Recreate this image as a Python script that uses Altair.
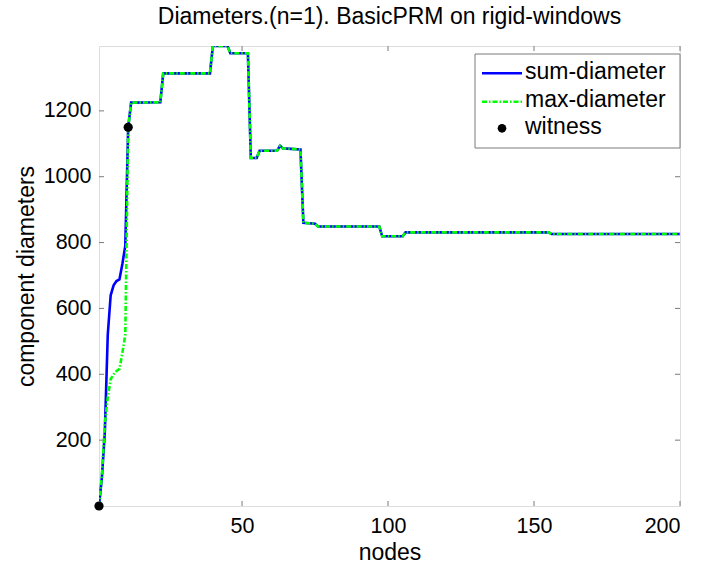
import altair as alt
import pandas as pd

# ---------------- data ----------------
title_text = "Diameters.(n=1). BasicPRM on rigid-windows"
x_title = "nodes"
y_title = "component diameters"
series_names = ["sum-diameter", "max-diameter", "witness"]

head_nodes = [1, 2, 3, 4, 5, 6, 7, 8, 9, 10, 11, 12]
sum_head_vals = [0, 88, 225, 520, 640, 670, 683, 688, 735, 790, 1150, 1225]
max_head_vals = [0, 95, 250, 330, 385, 400, 410, 416, 465, 520, 1150, 1225]

tail_nodes = [22, 23, 39, 40, 45, 46, 52, 53, 55, 56, 62, 63, 64, 70, 71, 75, 76,
              97, 98, 105, 106, 155, 156, 200]
tail_vals = [1226, 1314, 1314, 1397, 1397, 1375, 1375, 1057, 1057, 1079, 1079, 1094,
             1086, 1083, 860, 857, 849, 849, 819, 819, 831, 831, 826, 826]

witness_nodes = [1, 11]
witness_vals = [0, 1150]

x_ticks = [50, 100, 150, 200]
y_ticks = [200, 400, 600, 800, 1000, 1200]
x_domain = [1, 200]
y_domain = [0, 1397]

# ---------------- layout / style ----------------
FONT = "Liberation Sans"
W, H = 581, 460
AX = "#7a7a7a"
BLUE = "#0000ff"
GREEN = "#00ff00"
DASHDOT = [5, 2, 1.5, 2]

sum_df = pd.DataFrame({"x": head_nodes + tail_nodes, "y": sum_head_vals + tail_vals})
max_df = pd.DataFrame({"x": head_nodes + tail_nodes, "y": max_head_vals + tail_vals})
wit_df = pd.DataFrame({"x": witness_nodes, "y": witness_vals})

xscale = alt.Scale(domain=x_domain, nice=False, zero=False)
yscale = alt.Scale(domain=y_domain, nice=False, zero=False)

x_axis = alt.Axis(values=x_ticks, format="d", title=x_title, domain=False, ticks=False,
                  grid=False, labelFont=FONT, labelFontSize=21.5, labelColor="black",
                  labelPadding=9, titleFont=FONT, titleFontSize=23, titleColor="black",
                  titleFontWeight="normal", titleBaseline="alphabetic", titleY=53)
y_axis = alt.Axis(values=y_ticks, format="d", title=y_title, domain=False, ticks=False,
                  grid=False, labelFont=FONT, labelFontSize=21.5, labelColor="black",
                  labelPadding=8, titleFont=FONT, titleFontSize=23, titleColor="black",
                  titleFontWeight="normal", titleBaseline="alphabetic", titleX=-66)

X = alt.X("x:Q", scale=xscale, axis=x_axis, title=x_title)
Y = alt.Y("y:Q", scale=yscale, axis=y_axis, title=y_title)

sum_line = alt.Chart(sum_df).mark_line(color=BLUE, strokeWidth=2.6, clip=True).encode(x=X, y=Y)
max_line = alt.Chart(max_df).mark_line(color=GREEN, strokeWidth=2.6, strokeDash=DASHDOT,
                                       clip=True).encode(x=X, y=Y)
wit_pts = alt.Chart(wit_df).mark_circle(color="black", opacity=1, size=85).encode(x=X, y=Y)

# inward ticks (MATLAB style) on all four sides
xt = pd.DataFrame({"x": x_ticks})
yt = pd.DataFrame({"y": y_ticks})
tick_style = dict(color=AX, strokeWidth=1)
t_bottom = alt.Chart(xt).mark_rule(**tick_style).encode(x=X, y=alt.value(H), y2=alt.value(H - 5))
t_top = alt.Chart(xt).mark_rule(**tick_style).encode(x=X, y=alt.value(0), y2=alt.value(5))
t_left = alt.Chart(yt).mark_rule(**tick_style).encode(y=Y, x=alt.value(0), x2=alt.value(5))
t_right = alt.Chart(yt).mark_rule(**tick_style).encode(y=Y, x=alt.value(W), x2=alt.value(W - 5))

# legend box (top right, inside the axes)
one = alt.Data(values=[{}])
leg_box = alt.Chart(one).mark_rect(fill="white", stroke=AX, strokeWidth=1).encode(
    x=alt.value(376), x2=alt.value(W), y=alt.value(8), y2=alt.value(102))
rows = [27.3, 55.7, 82.3]
leg_l1 = alt.Chart(one).mark_rule(color=BLUE, strokeWidth=2.6).encode(
    x=alt.value(383), x2=alt.value(423), y=alt.value(rows[0]))
leg_l2 = alt.Chart(one).mark_rule(color=GREEN, strokeWidth=2.6, strokeDash=DASHDOT).encode(
    x=alt.value(383), x2=alt.value(423), y=alt.value(rows[1]))
leg_pt = alt.Chart(one).mark_circle(color="black", opacity=1, size=75).encode(
    x=alt.value(403), y=alt.value(rows[2]))
leg_txt = [
    alt.Chart(one).mark_text(text=name, font=FONT, fontSize=23, align="left",
                             baseline="alphabetic", color="black").encode(
        x=alt.value(426), y=alt.value(r + 5.5))
    for name, r in zip(series_names, rows)
]

chart = alt.layer(
    sum_line, max_line, wit_pts, t_bottom, t_top, t_left, t_right,
    leg_box, leg_l1, leg_l2, leg_pt, *leg_txt
).properties(
    width=W, height=H,
    title=alt.TitleParams(text=title_text, font=FONT, fontSize=23, fontWeight="normal",
                          color="black", anchor="middle", offset=17),
    autosize=alt.AutoSizeParams(type="none"),
    padding={"left": 99, "top": 46, "right": 21, "bottom": 59},
).configure_view(stroke=AX, strokeWidth=1).configure(background="white")

chart.save("out.html", embed_options={"renderer": "svg", "actions": False})
